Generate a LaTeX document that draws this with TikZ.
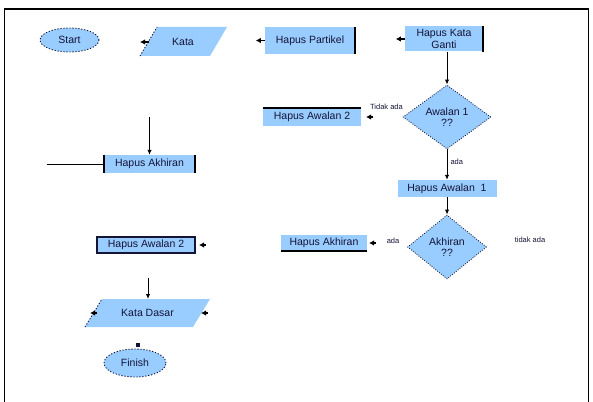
\documentclass[tikz,border=0pt]{standalone}
\usepackage{fontspec}
\setmainfont{Liberation Sans}
\usetikzlibrary{shapes.geometric,arrows.meta}
\definecolor{fillblue}{RGB}{153,204,255}
\definecolor{ink}{RGB}{20,20,55}
\begin{document}
\begin{tikzpicture}[x=1pt,y=-1pt,
  font=\fontsize{10.5}{11.5}\selectfont,
  box/.style={fill=fillblue, inner sep=0pt, text=ink, align=center},
  term/.style={ellipse, fill=fillblue, draw=ink, dash pattern=on 1.2pt off 1.8pt, line width=0.9pt, inner sep=0pt, text=ink},
  dec/.style={diamond, fill=fillblue, draw=ink, dash pattern=on 0.8pt off 1.6pt, line width=0.9pt, inner sep=0pt, align=center, text=ink},
  para/.style={fill=fillblue},
  conn/.style={line width=1pt, -{Latex[length=5pt,width=4.5pt]}},
  plain/.style={line width=1pt},
  stub/.style={line width=1.2pt, -{Latex[length=5pt,width=5.5pt]}},
  lbl/.style={font=\fontsize{7.5}{8}\selectfont, text=ink, inner sep=0pt},
  heavy/.style={line width=1.8pt, draw=black}]
\useasboundingbox (0,0) rectangle (593,401);
% frame
\draw[line width=1.6pt] (4.5,403) -- (4.5,9) -- (588.5,9) -- (588.5,403);

% Start
\node[term, minimum width=59, minimum height=24] (start) at (69.5,40) {Start};

% Kata (input)
\fill[para] (140,56) -- (157,27) -- (227,27) -- (210,56) -- cycle;
\draw[ink, dash pattern=on 1.2pt off 1.8pt, line width=0.9pt] (140,56) -- (157,27);
\node[text=ink, inner sep=0pt] (kata) at (183,42) {Kata};
\coordinate (kataL) at (149,42);
\draw[stub] (kataL) -- ++(-9,0);

% Hapus Partikel
\node[box, minimum width=90, minimum height=27] (partikel) at (310,40.5) {Hapus Partikel};
\draw[heavy] (partikel.north east) -- (partikel.south east);
\draw[stub] (partikel.west) -- ++(-9,0);

% Hapus Kata Ganti
\node[box, minimum width=78, minimum height=25] (ganti) at (444,39) {Hapus Kata\\Ganti};
\draw[heavy] (ganti.north east) -- (ganti.south east);
\draw[stub] (ganti.west) -- ++(-9,0);

% Decision Awalan 1
\node[dec, minimum width=88, minimum height=64] (d1) at (447,117) {Awalan 1\\??};
\draw[conn] (ganti.south -| d1.north) -- (d1.north);

% Tidak ada label + Hapus Awalan 2 (top)
\node[lbl, anchor=east] (tidak1) at (403,107) {Tidak ada};
\node[box, minimum width=98, minimum height=18] (aw2a) at (312,117) {Hapus Awalan 2};
\draw[heavy] (aw2a.north west) -- (aw2a.north east);
\coordinate (aw2aS) at (373,117);
\draw[stub] (aw2aS) -- ++(-7,0);

% Hapus Awalan 1
\node[box, minimum width=99, minimum height=17] (aw1) at (447,188.5) {Hapus Awalan \ 1};
\draw[conn] (d1.south) -- (aw1.north) node[lbl, pos=0.4, right=3pt] (ya1) {ada};

% Decision Akhiran
\node[dec, minimum width=79, minimum height=64] (d2) at (447,247) {Akhiran\\??};
\draw[conn] (aw1.south) -- (d2.north);
\node[lbl] (ada2) at (393,241) {ada};
\node[lbl] (tidak2) at (530,240) {tidak ada};

% Hapus Akhiran (right)
\node[box, minimum width=86, minimum height=16] (akhR) at (324,243) {Hapus Akhiran};
\draw[heavy] (akhR.south west) -- (akhR.south east);
\coordinate (akhRS) at (376,243);
\draw[stub] (akhRS) -- ++(-7,0);

% Hapus Akhiran (left middle)
\node[box, minimum width=91, minimum height=18] (akhL) at (149.5,164) {Hapus Akhiran};
\draw[heavy] (akhL.north west) -- (akhL.south west);
\draw[heavy] (akhL.north east) -- (akhL.south east);
\coordinate (akhLtop) at (149.5,117);
\coordinate (akhLleft) at (47,164);
\draw[conn] (akhLtop) -- (akhL.north);
\draw[plain] (akhLleft) -- (akhL.west);

% Hapus Awalan 2 (left)
\node[box, draw=ink, line width=1.3pt, minimum width=98, minimum height=16] (aw2b) at (146,245) {Hapus Awalan 2};
\coordinate (aw2bS) at (206,245);
\draw[stub] (aw2bS) -- ++(-7,0);

% Kata Dasar (output)
\fill[para] (85,327) -- (102,299) -- (210,299) -- (193,327) -- cycle;
\draw[ink, dash pattern=on 1.2pt off 1.8pt, line width=0.9pt] (85,327) -- (102,299);
\node[text=ink, inner sep=0pt] (dasar) at (147.5,313) {Kata Dasar};
\coordinate (dasarTop) at (148,299);
\coordinate (dasarIn) at (148,278);
\draw[conn] (dasarIn) -- (dasarTop);
\coordinate (dasarL) at (97,313);
\draw[stub] (dasarL) -- ++(-7,0);
\coordinate (dasarR) at (208,313);
\draw[stub] (dasarR) -- ++(-7,0);

% Finish
\node[term, minimum width=62, minimum height=28] (finish) at (135,363) {Finish};
\coordinate (finMark) at (138,345);
\fill[ink] (finMark) ++(-1.6,-1.6) rectangle ++(3.2,3.2);
\end{tikzpicture}
\end{document}
